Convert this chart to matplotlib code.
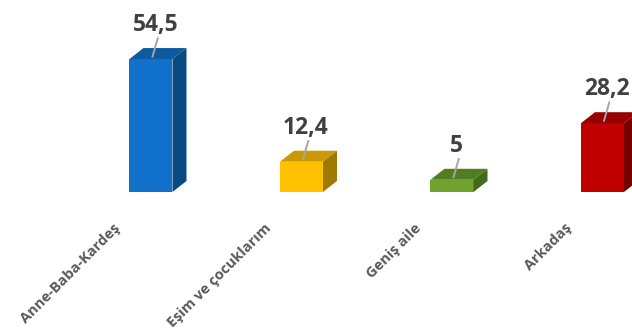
import matplotlib.pyplot as plt
from matplotlib.patches import Polygon

categories = ['Anne-Baba-Kardeş', 'Eşim ve çocuklarım', 'Geniş aile', 'Arkadaş']
values = [54.5, 12.4, 5, 28.2]
labels = ['54,5', '12,4', '5', '28,2']

front_colors = ['#1170C9', '#FFC000', '#70A22F', '#C00000']
top_colors = ['#0D5AA0', '#C99A05', '#527D22', '#960000']
side_colors = ['#0A4A83', '#A07A00', '#43691B', '#760000']

plt.rcParams['font.family'] = ['Open Sans', 'DejaVu Sans']

fig = plt.figure(figsize=(6.32, 3.31), dpi=100)
ax = fig.add_axes([0, 0, 1, 1])
ax.set_xlim(-1.003, 3.196)
ax.set_ylim(-57.0, 78.7)
ax.axis('off')

w = 0.286   # bar width
dx = 0.093  # depth offset in x
dy = 4.5    # depth offset in y

for i, v in enumerate(values):
    x0 = i - w / 2
    x1 = i + w / 2
    ax.bar(i, v, width=w, color=front_colors[i], zorder=3)
    top = Polygon([(x0, v), (x1, v), (x1 + dx, v + dy), (x0 + dx, v + dy)],
                  closed=True, facecolor=top_colors[i], edgecolor='none', zorder=3)
    side = Polygon([(x1, 0), (x1 + dx, dy), (x1 + dx, v + dy), (x1, v)],
                   closed=True, facecolor=side_colors[i], edgecolor='none', zorder=3)
    ax.add_patch(top)
    ax.add_patch(side)

    # leader line and value label
    ax.plot([i + 0.01, i + 0.045], [v + 1, v + 8.5], color='#A6A6A6', lw=1.4, zorder=4)
    ax.text(i + 0.03, v + 9.0, labels[i], ha='center', va='bottom',
            fontsize=16.5, fontweight='bold', color='#404040')

    # category label
    ax.text(i - 0.25, -11.9, categories[i], ha='right', va='top',
            rotation=45, rotation_mode='anchor', fontsize=10.5, fontweight='bold',
            color='#595959')

fig.savefig('out.png', dpi=100)
